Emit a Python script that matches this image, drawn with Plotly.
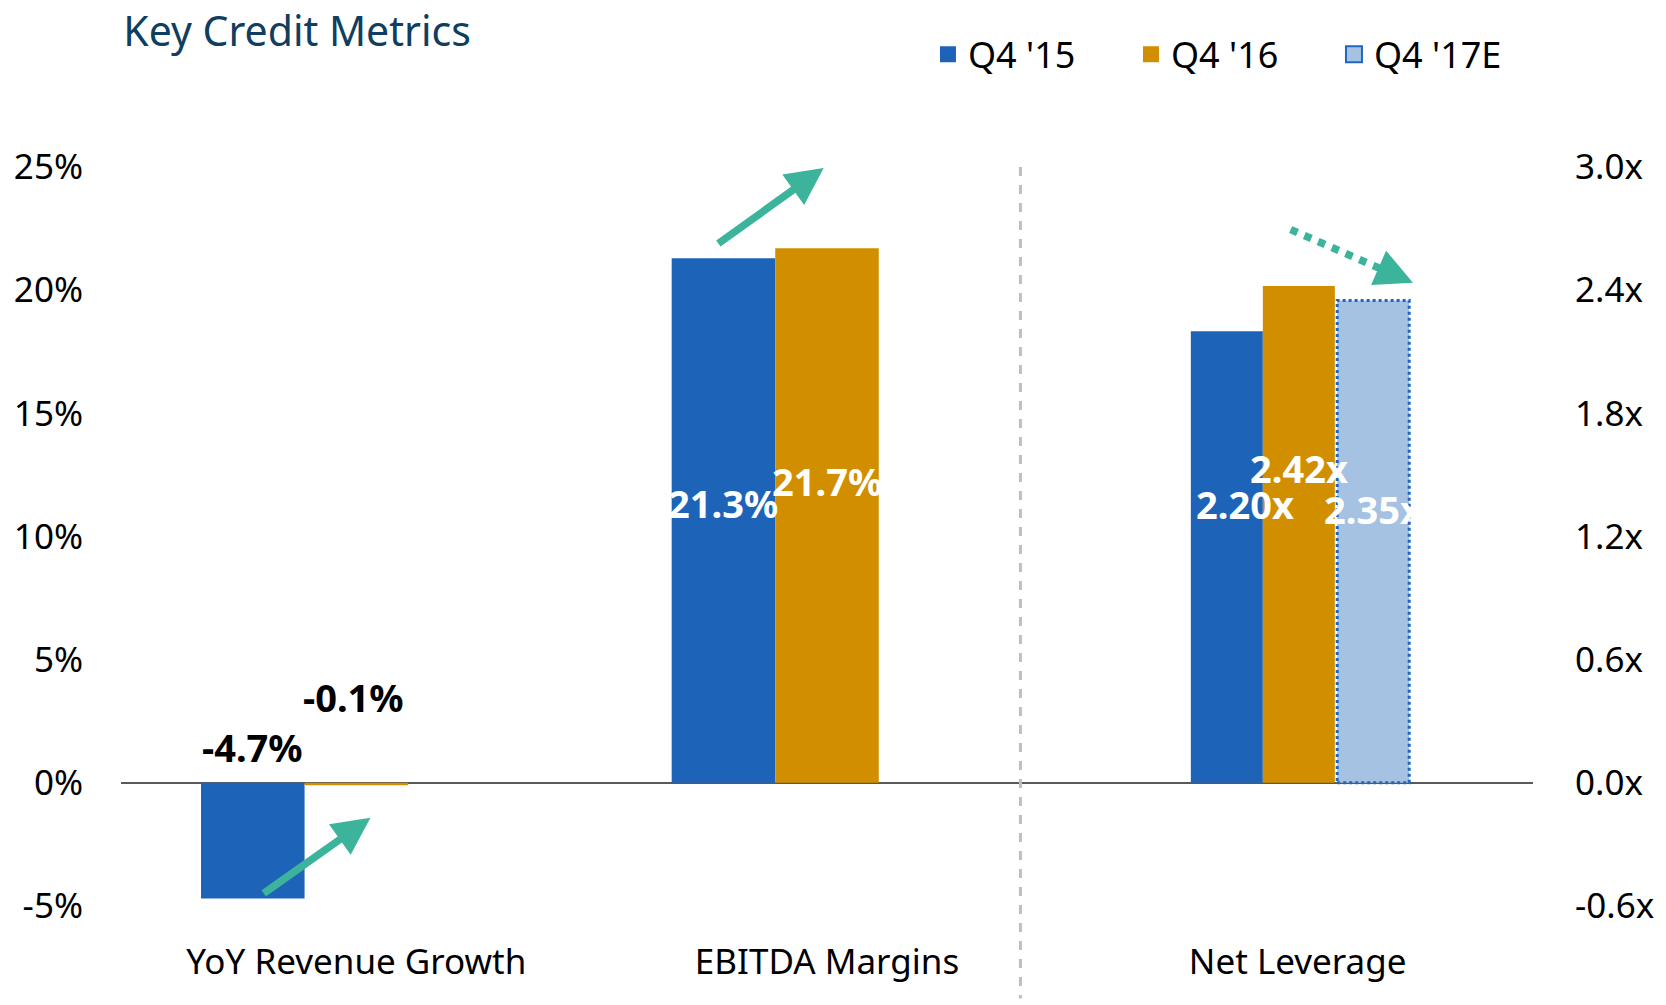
import plotly.graph_objects as go

# ---------------- data ----------------
categories = ["YoY Revenue Growth", "EBITDA Margins", "Net Leverage"]
series_names = ["Q4 '15", "Q4 '16", "Q4 '17E"]
pct_q415 = [-4.7, 21.3]          # YoY growth, EBITDA margin (%)
pct_q416 = [-0.1, 21.7]
lev_q415 = [2.20]                 # net leverage (x)
lev_q416 = [2.42]
lev_q417e = [2.35]
left_tickvals = [-5, 0, 5, 10, 15, 20, 25]
left_ticktext = ["-5%", "0%", "5%", "10%", "15%", "20%", "25%"]
right_tickvals = [-0.6, 0.0, 0.6, 1.2, 1.8, 2.4, 3.0]
right_ticktext = ["-0.6x", "0.0x", "0.6x", "1.2x", "1.8x", "2.4x", "3.0x"]

# ---------------- style ----------------
FONT = "Noto Sans"
BLUE = "#1D64B8"
ORANGE = "#D18F00"
LIGHT = "#A6C2E3"
DOT_BORDER = "#1F66C1"
TEAL = "#3CB49C"
W_PCT = 0.22
OFF_PCT = [-0.33, -0.11]
W_LEV = 0.153
OFF_LEV = [-0.227, -0.074, 0.084]

fig = go.Figure()

# primary-axis bars
for vals, off, col, name in [(pct_q415, OFF_PCT[0], BLUE, series_names[0]),
                             (pct_q416, OFF_PCT[1], ORANGE, series_names[1])]:
    fig.add_trace(go.Bar(x=categories[:2], y=vals, offset=off, width=W_PCT,
                         marker=dict(color=col, line=dict(width=0)),
                         name=name, showlegend=False, yaxis="y"))
# secondary-axis bars
for vals, off, col, name in [(lev_q415, OFF_LEV[0], BLUE, series_names[0]),
                             (lev_q416, OFF_LEV[1], ORANGE, series_names[1]),
                             (lev_q417e, OFF_LEV[2], LIGHT, series_names[2])]:
    fig.add_trace(go.Bar(x=categories[2:], y=vals, offset=off, width=W_LEV,
                         marker=dict(color=col, line=dict(width=0)),
                         name=name, showlegend=False, yaxis="y2"))

# dotted border around the estimate bar (derived from data)
fig.add_shape(type="rect", xref="x", yref="y2",
              x0=2 + OFF_LEV[2], x1=2 + OFF_LEV[2] + W_LEV, y0=0, y1=lev_q417e[0],
              line=dict(color=DOT_BORDER, width=3, dash="dot"), fillcolor="rgba(0,0,0,0)")

# legend proxies
for name, col, lc in [(series_names[0], BLUE, BLUE), (series_names[1], ORANGE, ORANGE),
                      (series_names[2], LIGHT, DOT_BORDER)]:
    fig.add_trace(go.Scatter(x=[None], y=[None], mode="markers", name=name,
                             marker=dict(symbol="square", size=20, color=col,
                                         line=dict(color=lc, width=2 if name == series_names[2] else 0))))

# ---------------- data labels ----------------
LBL_SIZE = 38
lbl_font_w = dict(family=FONT, size=LBL_SIZE, color="white")
lbl_font_k = dict(family=FONT, size=LBL_SIZE, color="black")
annotations = []
# YoY labels (black, above axis)
yoy_label_y = [1.47, 3.5]
yoy_label_dx = [0.0, -0.005]
for i, (vals, off) in enumerate([(pct_q415, OFF_PCT[0]), (pct_q416, OFF_PCT[1])]):
    annotations.append(dict(x=off + W_PCT / 2 + yoy_label_dx[i], y=yoy_label_y[i], xref="x", yref="y",
                            text=f"<b>{vals[0]:.1f}%</b>", showarrow=False, font=lbl_font_k,
                            xanchor="center", yanchor="middle"))
# EBITDA labels (white, inside bars)
ebitda_label_frac = [0.534, 0.564]
for i, (vals, off) in enumerate([(pct_q415, OFF_PCT[0]), (pct_q416, OFF_PCT[1])]):
    annotations.append(dict(x=1 + off + W_PCT / 2, y=vals[1] * ebitda_label_frac[i], xref="x", yref="y",
                            text=f"<b>{vals[1]:.1f}%</b>", showarrow=False, font=lbl_font_w,
                            xanchor="center", yanchor="middle"))
# leverage labels
lev_label_frac = [0.618, 0.633, 0.567]
lev_label_dx = [0.038, 0.0, 0.0]
for i, (vals, off) in enumerate([(lev_q415, OFF_LEV[0]), (lev_q416, OFF_LEV[1]), (lev_q417e, OFF_LEV[2])]):
    annotations.append(dict(x=2 + off + W_LEV / 2 + lev_label_dx[i], y=vals[0] * lev_label_frac[i],
                            xref="x", yref="y2",
                            text=f"<b>{vals[0]:.2f}x</b>", showarrow=False, font=lbl_font_w,
                            xanchor="center", yanchor="middle"))

# ---------------- trend arrows ----------------
arrow = dict(showarrow=True, arrowhead=2, arrowsize=1.0, arrowwidth=7.5, arrowcolor=TEAL,
             text="", xref="x", yref="y", axref="x", ayref="y")
annotations.append(dict(arrow, x=0.03, y=-1.42, ax=-0.20, ay=-4.53))
annotations.append(dict(arrow, x=0.993, y=24.96, ax=0.766, ay=21.85))
# dotted arrow: dotted shaft + head
tail = (1.985, 22.46)
head = (2.245, 20.30)
fig.add_shape(type="line", xref="x", yref="y", x0=tail[0], y0=tail[1],
              x1=tail[0] + (head[0] - tail[0]) * 0.85, y1=tail[1] + (head[1] - tail[1]) * 0.85,
              line=dict(color=TEAL, width=7.5, dash="dot"))
annotations.append(dict(arrow, x=head[0], y=head[1],
                        ax=tail[0] + (head[0] - tail[0]) * 0.8, ay=tail[1] + (head[1] - tail[1]) * 0.8))

# vertical dashed divider
fig.add_shape(type="line", xref="paper", yref="paper", x0=0.637, x1=0.637, y0=1.0, y1=-0.125,
              line=dict(color="#BFBFBF", width=3, dash="dash"))

TICK_SIZE = 35
fig.update_layout(
    width=1666, height=1005,
    margin=dict(l=121, r=127, t=167, b=99),
    paper_bgcolor="white", plot_bgcolor="white",
    barmode="overlay",
    font=dict(family=FONT, size=TICK_SIZE, color="black"),
    title=dict(text="Key Credit Metrics", xref="container", yref="container",
               x=0.074, y=0.969, xanchor="left", yanchor="middle",
               font=dict(family=FONT, size=41, color="#0F3E61")),
    legend=dict(orientation="h", xref="container", yref="container",
                x=0.557, y=0.946, xanchor="left", yanchor="middle",
                font=dict(family=FONT, size=36, color="black"),
                entrywidth=158, entrywidthmode="pixels", itemsizing="trace",
                bgcolor="rgba(0,0,0,0)"),
    xaxis=dict(type="category", range=[-0.5, 2.5], showgrid=False, showline=False,
               zeroline=False, ticks="outside", ticklen=25, tickcolor="rgba(0,0,0,0)",
               tickfont=dict(size=TICK_SIZE)),
    yaxis=dict(range=[-5, 25], tickvals=left_tickvals, ticktext=left_ticktext,
               showgrid=False, zeroline=True, zerolinecolor="#595959", zerolinewidth=2,
               showline=False, ticks="outside", ticklen=30, tickcolor="rgba(0,0,0,0)",
               tickfont=dict(size=TICK_SIZE)),
    yaxis2=dict(range=[-0.6, 3.0], tickvals=right_tickvals, ticktext=right_ticktext,
                overlaying="y", side="right", showgrid=False, zeroline=False,
                showline=False, ticks="outside", ticklen=34, tickcolor="rgba(0,0,0,0)",
                tickfont=dict(size=TICK_SIZE)),
    annotations=annotations,
)

fig.write_html("out.html", config={"displayModeBar": False},
               post_script="document.body.style.margin='0';")
